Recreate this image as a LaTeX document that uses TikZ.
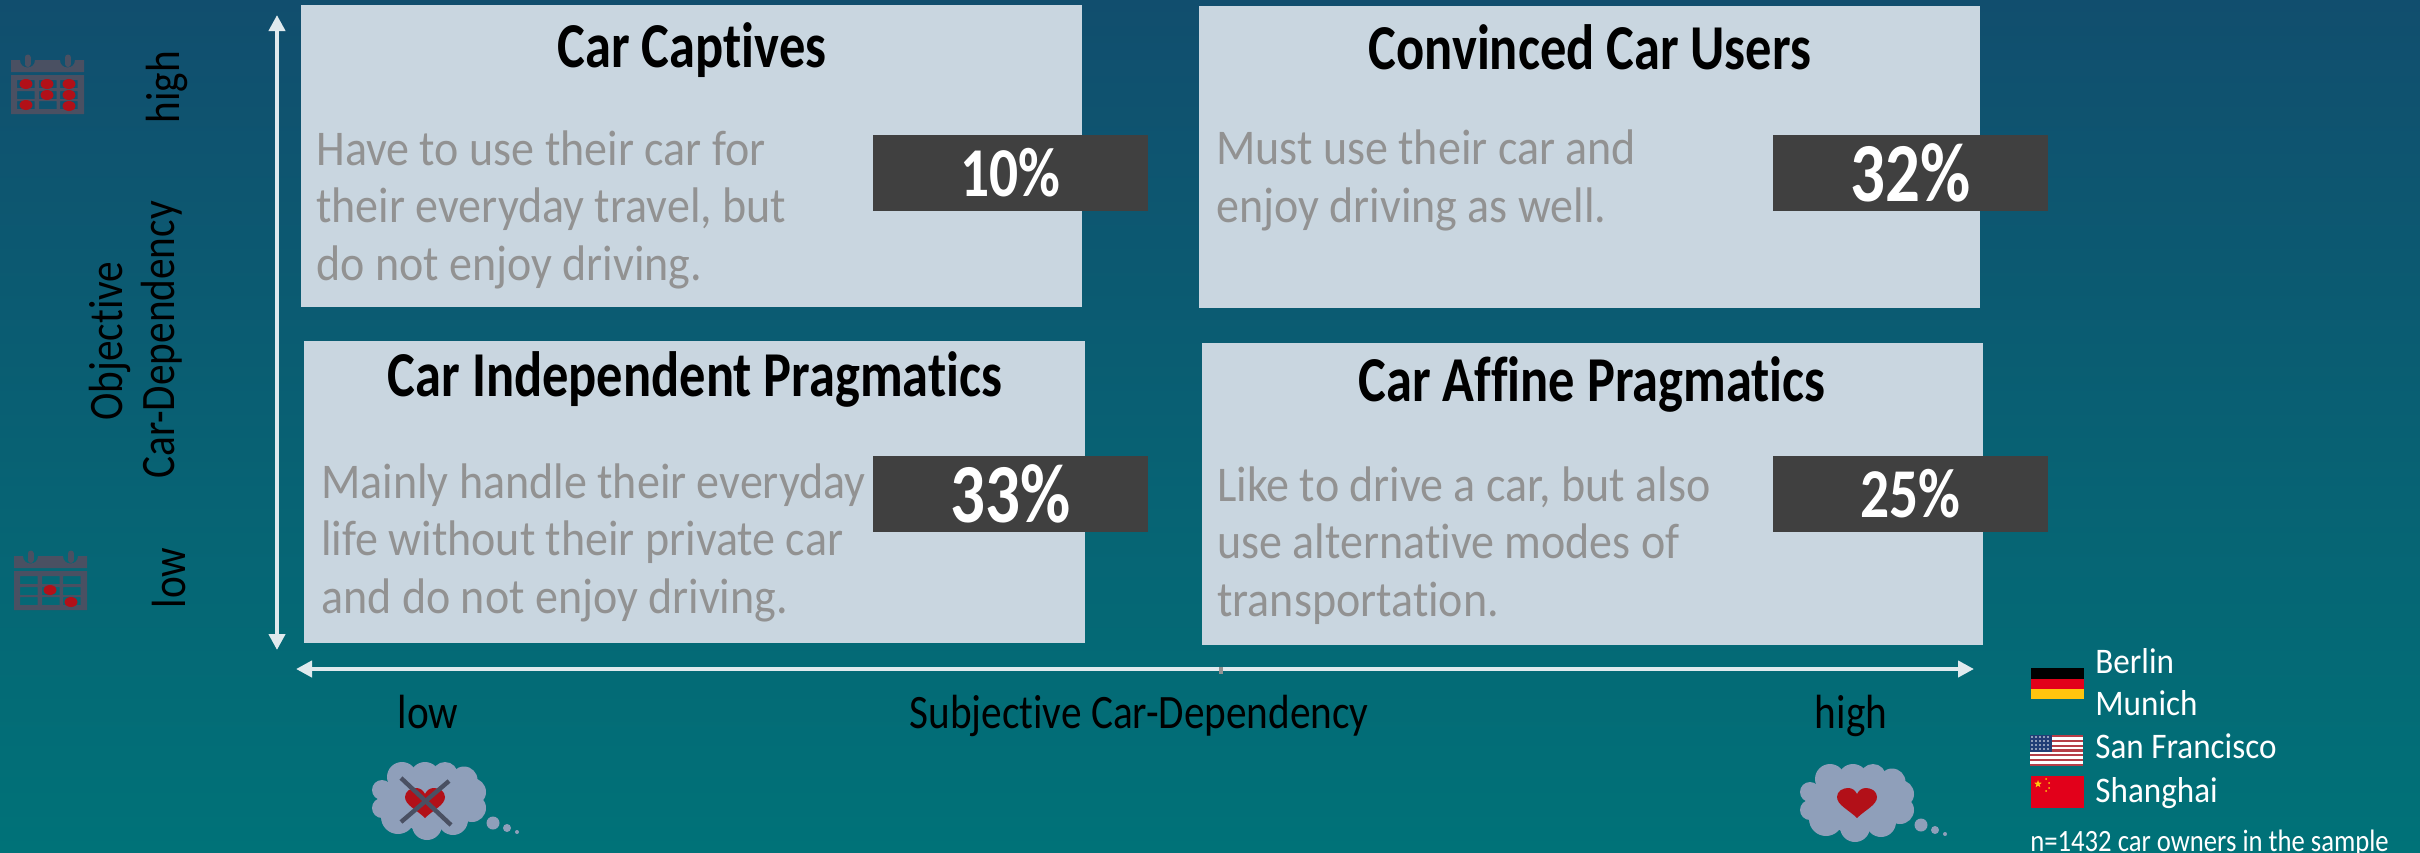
\documentclass[tikz,border=0pt]{standalone}
\usepackage{fontspec}
\setmainfont[FakeStretch=0.92, Ligatures=CommonOff]{Carlito}
\newfontfamily\narrowfamily[FakeStretch=0.86, Ligatures=CommonOff]{Carlito}
\newfontfamily\titlefamily[FakeStretch=0.82, Ligatures=CommonOff]{Carlito}
\usetikzlibrary{arrows.meta}
\usetikzlibrary{shapes}
\definecolor{bgtop}{RGB}{17, 78, 110}
\definecolor{bgbottom}{RGB}{0, 114, 120}
\definecolor{quadfill}{RGB}{201, 214, 224}
\definecolor{descgrey}{RGB}{146, 146, 146}
\definecolor{pctdark}{RGB}{64, 64, 64}
\definecolor{axisline}{RGB}{224, 234, 238}
\definecolor{iconslate}{RGB}{74, 80, 98}
\definecolor{heartred}{RGB}{178, 16, 24}
\definecolor{cloudblue}{RGB}{143, 159, 186}
\definecolor{flagred}{RGB}{226, 0, 26}
\definecolor{flaggold}{RGB}{255, 196, 14}
\definecolor{usred}{RGB}{181, 62, 72}
\definecolor{usblue}{RGB}{34, 62, 118}
\tikzset{
	quadbox/.style={fill=quadfill, anchor=north west, inner sep=0pt, minimum width=390.5pt, minimum height=151pt},
	pctbox/.style={fill=pctdark, text=white, inner sep=0pt, minimum width=137.5pt, minimum height=38pt},
	pctsmall/.style={font=\titlefamily\bfseries\fontsize{35}{38}\selectfont},
	pctbig/.style={font=\titlefamily\bfseries\fontsize{42}{46}\selectfont},
	quadtitle/.style={anchor=base, inner sep=0pt, font=\titlefamily\bfseries\fontsize{32}{36}\selectfont},
	quadtext/.style={anchor=base west, inner sep=0pt, align=left, text=descgrey, font=\fontsize{25}{28.75}\selectfont},
	axislabel/.style={anchor=base, inner sep=0pt, font=\narrowfamily\fontsize{24}{28}\selectfont},
	sidelabel/.style={axislabel, rotate=90},
	legendlabel/.style={anchor=base west, inner sep=0pt, text=white, font=\fontsize{18}{22}\selectfont},
	samplelabel/.style={legendlabel, font=\narrowfamily\fontsize{15.5}{18}\selectfont},
	axisarrow/.style={draw=axisline, line width=2.3pt, {Triangle[length=8pt, width=8pt]}-{Triangle[length=8pt, width=8pt]}}
}
% calendar icon, #1 is the shift, #2 the list of marked days
\newcommand{\myCalendar}[2]{
	\begin{scope}[shift={(#1)}]
		\fill[iconslate] (11,60) -- (20,60) .. controls (20,70) and (35,70) .. (35,60) -- (60,60)
			.. controls (60,70) and (75,70) .. (75,60) -- (84,60) -- (84,72) -- (11,72) -- cycle;
		\draw[iconslate, line width=3pt, line cap=round] (27.5,57.5) -- (27.5,64);
		\draw[iconslate, line width=3pt, line cap=round] (68,57.5) -- (68,64);
		\fill[iconslate, even odd rule] (11,75) rectangle (84,114)
			\foreach \c in {17,39,60}{
				\foreach \r in {80,91,101}{
					(\c,\r) rectangle (\c+17.5,\r+8)
				}
			};
		\foreach \c/\r in {#2}{
			\fill[heartred] (\c,\r) circle[x radius=6.5, y radius=5];
		}
	\end{scope}
}
% thought cloud, #1 is its upper left corner
\newcommand{\myCloud}[1]{
	\begin{scope}[shift={(#1)}]
		\foreach \x/\y/\r in {
			10/28/10, 10/46/10, 30/15/15, 53/15/15, 73/13/13, 92/18/13.5,
			100/30/14, 100/46/14, 81/58/15, 55/63/15, 26/55/17, 55/38/32, 28/36/18, 84/36/18
		}{
			\fill[cloudblue] (\x,\y) circle[radius=\r];
		}
		\fill[cloudblue] (121,61) circle[radius=6.5];
		\fill[cloudblue] (135,66) circle[radius=4];
		\fill[cloudblue] (145,70) circle[radius=2];
	\end{scope}
}
% heart, #1 is its centre
\newcommand{\myHeart}[1]{
	\fill[heartred, shift={(#1)}] (0,15) .. controls (-8,7) and (-20,2) .. (-20,-6)
		.. controls (-20,-12) and (-14,-15) .. (-9,-15) .. controls (-5,-15) and (-2,-13) .. (0,-9)
		.. controls (2,-13) and (5,-15) .. (9,-15) .. controls (14,-15) and (20,-12) .. (20,-6)
		.. controls (20,2) and (8,7) .. (0,15) -- cycle;
}

\begin{document}
\begin{tikzpicture}[x=0.5pt, y=-0.5pt]
	\useasboundingbox (0,0) rectangle (2420,852);
	\shade[top color=bgtop, bottom color=bgbottom] (0,0) rectangle (2420,852);

	% quadrants
	\foreach \name/\x/\y in {
		captives/301/5, convinced/1199/6,
		independent/304/341, affine/1202/343
	}{
		\node[quadbox] (\name) at (\x,\y) {};
	}

	% titles
	\node[quadtitle] (captivestitle) at (692,67) {Car Captives};
	\node[quadtitle] (convincedtitle) at (1590,69) {Convinced Car Users};
	\node[quadtitle] (independenttitle) at (695,396) {Car Independent Pragmatics};
	\node[quadtitle] (affinetitle) at (1592,401) {Car Affine Pragmatics};

	% descriptions
	\node[quadtext] (captivestext) at (316,280) {Have to use their car for\\their everyday travel, but\\do not enjoy driving.};
	\node[quadtext] (convincedtext) at (1216,222) {Must use their car and\\enjoy driving as well.};
	\node[quadtext] (independenttext) at (321,613) {Mainly handle their everyday\\life without their private car\\and do not enjoy driving.};
	\node[quadtext] (affinetext) at (1217,616) {Like to drive a car, but also\\use alternative modes of\\transportation.};

	% shares
	\node[pctbox, pctsmall] (captivespct) at (1010.5,173) {10\%};
	\node[pctbox, pctbig] (convincedpct) at (1910.5,173) {32\%};
	\node[pctbox, pctbig] (independentpct) at (1010.5,494) {33\%};
	\node[pctbox, pctsmall] (affinepct) at (1910.5,494) {25\%};

	% axes
	\coordinate (ytop) at (277,15);
	\coordinate (ybottom) at (277,650);
	\coordinate (xleft) at (296,669);
	\coordinate (xright) at (1974,669);
	\draw[axisarrow] (ybottom) -- (ytop);
	\draw[axisarrow] (xleft) -- (xright);
	\fill[descgrey] (1219,667) rectangle (1223,674);

	% axis labels
	\node[sidelabel] (yhigh) at (179,87) {high};
	\node[sidelabel] (ylow) at (185,578) {low};
	\node[sidelabel] (yname) at (122,341) {Objective};
	\node[sidelabel] (ynametwo) at (174,340) {Car-Dependency};
	\node[axislabel] (xlow) at (428,728) {low};
	\node[axislabel] (xname) at (1139,728) {Subjective Car-Dependency};
	\node[axislabel] (xhigh) at (1851,728) {high};

	% icons
	\myCalendar{0,0}{26/84, 47/84, 69/84, 47/95, 69/95, 26/105, 69/106}
	\myCalendar{3,496}{47/94, 68/106}
	\myCloud{372,762}
	\myHeart{425,803}
	\draw[iconslate, line width=2.2pt] (401,778) -- (451,825);
	\draw[iconslate, line width=2.2pt] (449,781) -- (401,822);
	\myCloud{1800,764}
	\myHeart{1857,803}

	% flags
	\fill[black] (2031,668) rectangle (2084,678.5);
	\fill[flagred] (2031,678.5) rectangle (2084,689);
	\fill[flaggold] (2031,689) rectangle (2084,699);

	\fill[white] (2030,735) rectangle (2083,766);
	\foreach \i in {0,2,...,12}{
		\fill[usred] (2030,735+\i*2.385) rectangle (2083,735+\i*2.385+2.385);
	}
	\fill[usblue] (2030,735) rectangle (2052,752);
	\foreach \x in {2032,2036,...,2050}{
		\foreach \y in {737,741,...,750}{
			\fill[white] (\x,\y) circle[radius=0.8];
		}
	}

	\fill[flagred] (2031,776) rectangle (2084,808);
	\node[star, star points=5, star point ratio=2.4, fill=flaggold, inner sep=0pt, minimum size=4pt] (chinastar) at (2038,784) {};
	\foreach \x/\y in {2046/779, 2049/783, 2049/788, 2046/791}{
		\fill[flaggold] (\x,\y) circle[radius=1];
	}

	% legend
	\node[legendlabel] (berlin) at (2095,673) {Berlin};
	\node[legendlabel] (munich) at (2095,715) {Munich};
	\node[legendlabel] (sanfrancisco) at (2095,758) {San Francisco};
	\node[legendlabel] (shanghai) at (2095,802) {Shanghai};
	\node[samplelabel] (samplesize) at (2030,851) {n=1432 car owners in the sample};
\end{tikzpicture}
\end{document}
